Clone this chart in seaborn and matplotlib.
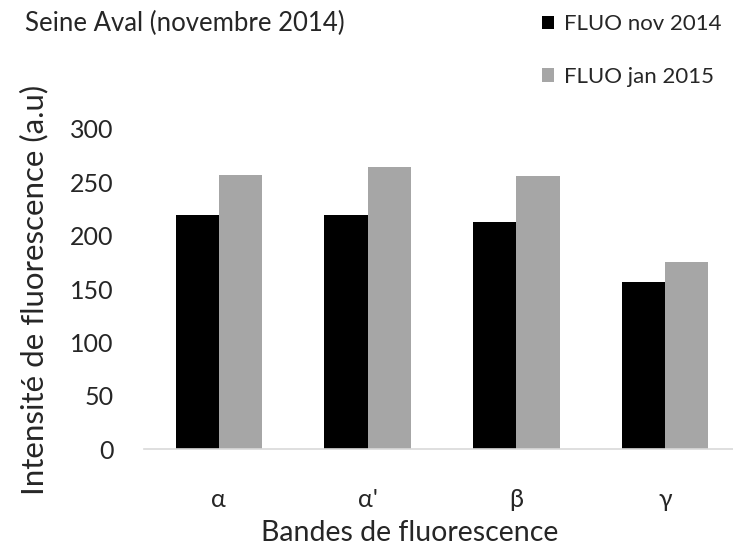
import matplotlib
matplotlib.use("Agg")
import matplotlib.pyplot as plt
import seaborn as sns
import pandas as pd

bandes = ["α", "α'", "β", "γ"]
series = ["FLUO nov 2014", "FLUO jan 2015"]
fluo_nov_2014 = [219, 219, 213, 157]
fluo_jan_2015 = [257, 264, 256, 175]
y_ticks = [0, 50, 100, 150, 200, 250, 300]

df = pd.DataFrame({
    "bande": bandes * 2,
    "serie": [series[0]] * 4 + [series[1]] * 4,
    "valeur": fluo_nov_2014 + fluo_jan_2015,
})

sns.set_theme(style="white")
plt.rcParams["font.family"] = ["Lato", "DejaVu Sans"]

fig = plt.figure(figsize=(7.33, 5.5), dpi=100)
ax = fig.add_axes([0.197, 0.183, 0.812, 0.583])

sns.barplot(data=df, x="bande", y="valeur", hue="serie",
            palette=["#000000", "#A6A6A6"], width=0.58, gap=0,
            saturation=1, edgecolor="none", linewidth=0, ax=ax)

ax.set_ylim(0, 300)
ax.set_xlim(-0.5, 3.5)
ax.set_yticks(y_ticks)
ax.tick_params(axis="y", labelsize=18, length=0, pad=22)
ax.tick_params(axis="x", labelsize=18, length=0, pad=28)

for side in ["top", "right", "left"]:
    ax.spines[side].set_visible(False)
ax.spines["bottom"].set_color("#D9D9D9")
ax.spines["bottom"].set_linewidth(1.2)

ax.set_ylabel("Intensité de fluorescence (a.u)", fontsize=22.5)
ax.yaxis.label.set_verticalalignment("center")
ax.yaxis.set_label_coords(-0.186, 0.497)

ax.set_xlabel("Bandes de fluorescence", fontsize=20.5)
ax.xaxis.label.set_verticalalignment("center")
ax.xaxis.set_label_coords(0.446, -0.262)

fig.text(0.034, 0.958, "Seine Aval (novembre 2014)", fontsize=18.5,
         ha="left", va="center")

ax.legend_.remove()
handles, labels = ax.get_legend_handles_labels()
fig.legend(handles, labels, loc="upper left", bbox_to_anchor=(0.712, 1.01),
           frameon=False, fontsize=16, handlelength=0.55, handleheight=0.55,
           handletextpad=0.45, labelspacing=1.45)

fig.savefig("out.png", dpi=100)
